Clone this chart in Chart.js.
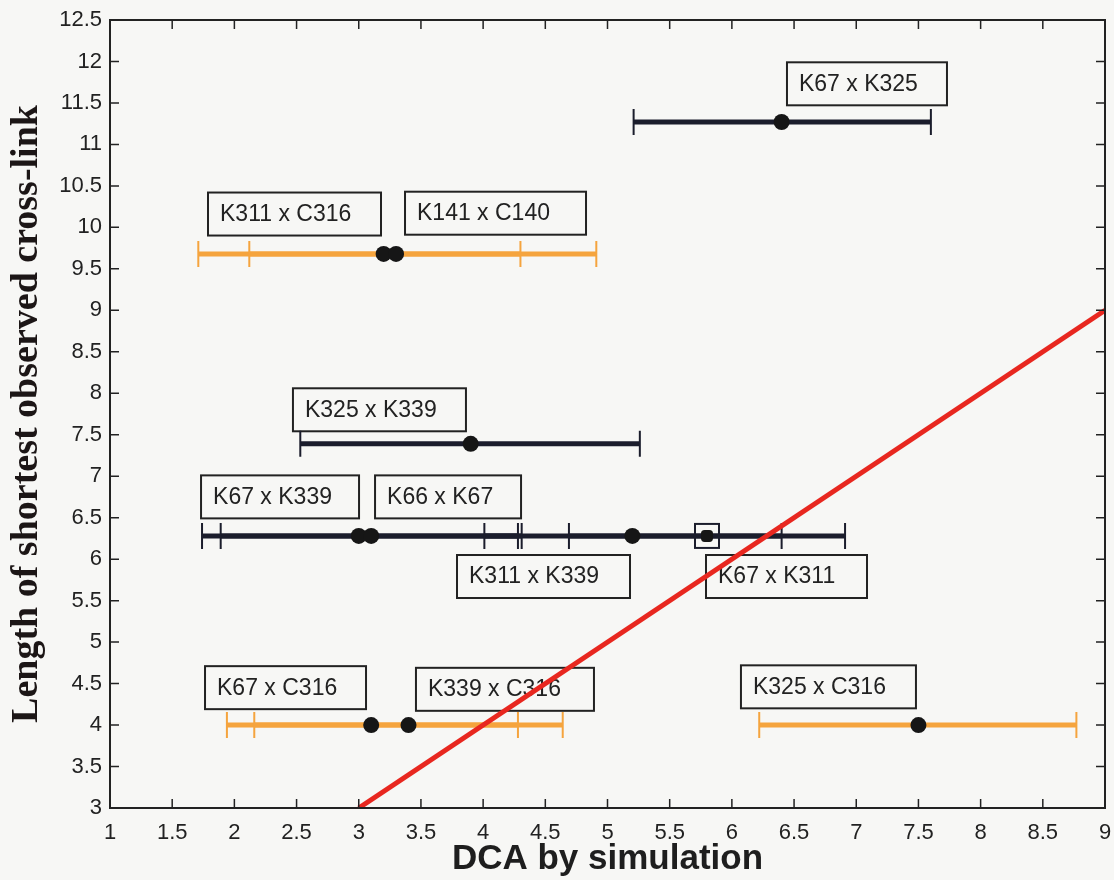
<!DOCTYPE html>
<html>
<head>
<meta charset="utf-8">
<script src="https://cdn.jsdelivr.net/npm/chart.js@4/dist/chart.umd.min.js"></script>
<style>
html,body{margin:0;padding:0;background:#f7f7f5;}
#wrap{width:1114px;height:880px;}
</style>
</head>
<body>
<div id="wrap"><canvas id="c" width="1114" height="880"></canvas></div>
<script>
// ---- data ----
const pairLabels = ['K67 x K325','K311 x C316','K141 x C140','K325 x K339','K67 x K339','K66 x K67','K311 x K339','K67 x K311','K67 x C316','K339 x C316','K325 x C316'];
const dcaSim      = [6.4, 3.2, 3.3, 3.9, 3.0, 3.1, 5.2, 5.8, 3.1, 3.4, 7.5];
const shortestLen = [11.27, 9.68, 9.68, 7.39, 6.28, 6.28, 6.28, 6.28, 4.0, 4.0, 4.0];
const dcaLow      = [5.21, 1.71, 2.12, 2.53, 1.74, 1.89, 4.01, 4.69, 1.94, 2.16, 6.22];
const dcaHigh     = [7.60, 4.30, 4.91, 5.26, 4.28, 4.31, 6.40, 6.91, 4.28, 4.64, 8.77];
const pairType    = ['KK','KC','KC','KK','KK','KK','KK','KK','KC','KC','KC'];
const boxedPair   = 'K67 x K311';
const identityX   = [3, 9];
const identityY   = [3, 9];
const xTickValues = [1,1.5,2,2.5,3,3.5,4,4.5,5,5.5,6,6.5,7,7.5,8,8.5,9];
const yTickValues = [3,3.5,4,4.5,5,5.5,6,6.5,7,7.5,8,8.5,9,9.5,10,10.5,11,11.5,12,12.5];

// ---- label layout (box left/top in data units, width in px) ----
const labelLayout = [
  {x:6.443, y:11.99, w:160},
  {x:1.788, y:10.42, w:173},
  {x:3.372, y:10.43, w:181},
  {x:2.471, y:8.06,  w:173},
  {x:1.732, y:7.01,  w:158},
  {x:3.131, y:7.01,  w:146},
  {x:3.790, y:6.05,  w:173},
  {x:5.792, y:6.05,  w:161},
  {x:1.764, y:4.71,  w:161},
  {x:3.460, y:4.69,  w:178},
  {x:6.073, y:4.72,  w:175}
];

const COLORS = {KK:'#1b1d2c', KC:'#f5a43e'};
const SANS = '"Liberation Sans", Arial, Helvetica, sans-serif';

const bgPlugin = {
  id:'bg',
  beforeDraw(chart){
    const ctx = chart.ctx;
    ctx.save(); ctx.fillStyle = '#f7f7f5';
    ctx.fillRect(0,0,chart.width,chart.height); ctx.restore();
  }
};

const errPlugin = {
  id:'errbars',
  beforeDatasetsDraw(chart){
    const ctx = chart.ctx, xs = chart.scales.x, ys = chart.scales.y;
    ctx.save();
    // label boxes
    ctx.font = '23px ' + SANS;
    ctx.textBaseline = 'middle';
    ctx.textAlign = 'left';
    labelLayout.forEach((b,i)=>{
      const l = xs.getPixelForValue(b.x), t = ys.getPixelForValue(b.y);
      ctx.strokeStyle = '#222'; ctx.lineWidth = 2;
      ctx.strokeRect(l, t, b.w, 43);
      ctx.fillStyle = '#222';
      ctx.fillText(pairLabels[i], l + 12, t + 22);
    });
    // error bars
    dcaSim.forEach((v,i)=>{
      const y = ys.getPixelForValue(shortestLen[i]);
      const x1 = xs.getPixelForValue(dcaLow[i]), x2 = xs.getPixelForValue(dcaHigh[i]);
      ctx.strokeStyle = COLORS[pairType[i]];
      ctx.lineWidth = 5; ctx.lineCap = 'butt';
      ctx.beginPath(); ctx.moveTo(x1,y); ctx.lineTo(x2,y); ctx.stroke();
      ctx.lineWidth = 2;
      ctx.beginPath();
      ctx.moveTo(x1,y-13); ctx.lineTo(x1,y+13);
      ctx.moveTo(x2,y-13); ctx.lineTo(x2,y+13);
      ctx.stroke();
    });
    ctx.restore();
  },
  afterDatasetsDraw(chart){
    const ctx = chart.ctx, xs = chart.scales.x, ys = chart.scales.y, a = chart.chartArea;
    ctx.save();
    // boxed marker
    const bi = pairLabels.indexOf(boxedPair);
    if (bi >= 0){
      const px = xs.getPixelForValue(dcaSim[bi]), py = ys.getPixelForValue(shortestLen[bi]);
      ctx.strokeStyle = '#1b1d2c'; ctx.lineWidth = 2;
      ctx.strokeRect(px-12, py-12, 24, 24);
    }
    // frame
    ctx.strokeStyle = '#222'; ctx.lineWidth = 2;
    ctx.strokeRect(a.left, a.top, a.right-a.left, a.bottom-a.top);
    // inward ticks on all sides
    const tl = 9;
    ctx.lineWidth = 1.5;
    ctx.beginPath();
    xTickValues.forEach(v=>{
      const p = xs.getPixelForValue(v);
      ctx.moveTo(p, a.bottom); ctx.lineTo(p, a.bottom - tl);
      ctx.moveTo(p, a.top); ctx.lineTo(p, a.top + tl);
    });
    yTickValues.forEach(v=>{
      const p = ys.getPixelForValue(v);
      ctx.moveTo(a.left, p); ctx.lineTo(a.left + tl, p);
      ctx.moveTo(a.right, p); ctx.lineTo(a.right - tl, p);
    });
    ctx.stroke();
    ctx.restore();
  }
};

new Chart(document.getElementById('c'), {
  data: {
    datasets: [
      {
        type:'scatter',
        data: dcaSim.map((x,i)=>({x, y: shortestLen[i]})),
        pointRadius: pairLabels.map(l => l === boxedPair ? 7 : 8),
        pointStyle: pairLabels.map(l => l === boxedPair ? 'rectRounded' : 'circle'),
        backgroundColor:'#161616',
        borderColor:'#161616',
        borderWidth:0,
        order:0
      },
      {
        type:'line',
        data: identityX.map((x,i)=>({x, y: identityY[i]})),
        borderColor:'#e8271f',
        borderWidth:5,
        pointRadius:0,
        fill:false,
        order:1
      }
    ]
  },
  options: {
    responsive:false,
    animation:false,
    events:[],
    layout:{padding:{top:20, right:9, left:0, bottom:0}},
    plugins:{legend:{display:false}, tooltip:{enabled:false}},
    scales:{
      x:{
        type:'linear', min:1, max:9,
        afterBuildTicks(s){ s.ticks = xTickValues.map(v=>({value:v})); },
        afterFit(s){ s.height = 72; s.paddingLeft = 0; s.paddingRight = 0; },
        grid:{display:false, drawTicks:false},
        border:{display:false},
        ticks:{padding:12, color:'#222', font:{family:SANS, size:22}, maxRotation:0, autoSkip:false,
               callback:(v)=>String(v)},
        title:{display:true, text:'DCA by simulation', color:'#1e1e1e',
               font:{family:SANS, size:35, weight:'bold'}, padding:{top:0,bottom:0}}
      },
      y:{
        type:'linear', min:3, max:12.5,
        afterBuildTicks(s){ s.ticks = yTickValues.map(v=>({value:v})); },
        afterFit(s){ s.width = 110; s.paddingTop = 0; s.paddingBottom = 0; },
        grid:{display:false, drawTicks:false},
        border:{display:false},
        ticks:{padding:8, color:'#222', font:{family:SANS, size:22}, autoSkip:false,
               callback:(v)=>String(v)},
        title:{display:true, text:'Length of shortest observed cross-link', color:'#1c1616',
               font:{family:'"Liberation Serif", "Times New Roman", serif', size:38, weight:'bold'},
               padding:{top:4,bottom:0}}
      }
    }
  },
  plugins:[bgPlugin, errPlugin]
});
</script>
</body>
</html>
